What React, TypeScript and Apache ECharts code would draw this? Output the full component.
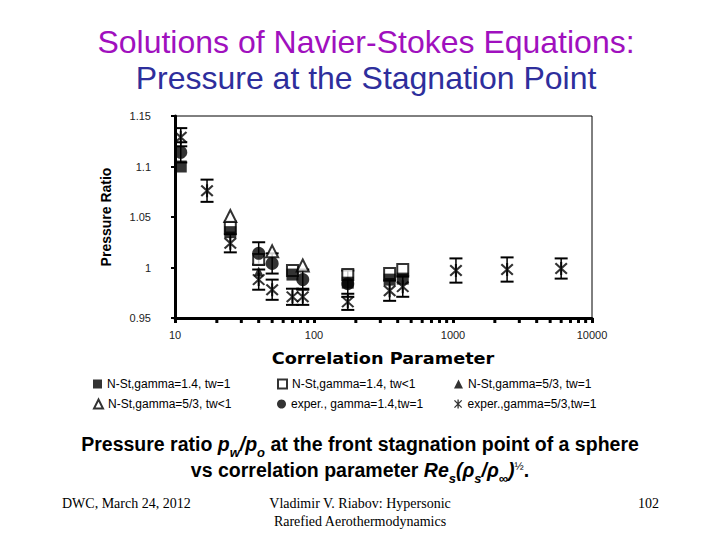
import React, { useEffect, useRef } from 'react';
import * as echarts from 'echarts';

// ---------- data ----------
const seriesNames = [
  'N-St,gamma=1.4, tw=1',
  'N-St,gamma=1.4, tw<1',
  'N-St,gamma=5/3, tw=1',
  'N-St,gamma=5/3, tw<1',
  'exper., gamma=1.4,tw=1',
  'exper.,gamma=5/3,tw=1',
];

const nstG14Tw1X = [11, 25, 70, 175, 350, 435];
const nstG14Tw1Y = [1.1, 1.035, 0.993, 0.985, 0.988, 0.989];

const nstG14TwLtX = [25, 40, 70, 175, 350, 435];
const nstG14TwLtY = [1.04, 1.008, 0.997, 0.993, 0.994, 0.998];

const nstG53Tw1X = [40];
const nstG53Tw1Y = [0.996];

const nstG53TwLtX = [25, 50, 83];
const nstG53TwLtY = [1.051, 1.016, 1.002];

const expG14X = [11, 40, 50, 83, 175];
const expG14Y = [1.114, 1.014, 1.004, 0.988, 0.984];
const expG14Err = [0.01, 0.011, 0.01, 0.01, 0.013];

const expG53X = [11, 17, 25, 40, 50, 70, 83, 175, 350, 435, 1050, 2450, 6000];
const expG53Y = [1.129, 1.076, 1.024, 0.988, 0.978, 0.971, 0.971, 0.966, 0.977, 0.981, 0.997, 0.998, 0.999];
const expG53Err = [0.009, 0.011, 0.009, 0.01, 0.01, 0.008, 0.008, 0.008, 0.01, 0.01, 0.012, 0.012, 0.01];

const minorTickValues = [
  20, 30, 40, 50, 60, 70, 80, 90,
  200, 300, 400, 500, 600, 700, 800, 900,
  2000, 3000, 4000, 5000, 6000, 7000, 8000, 9000,
];

const xMin = 10;
const xMax = 10000;
const yMin = 0.95;
const yMax = 1.15;
const yInterval = 0.05;

// ---------- helpers ----------
const zip = (xs: number[], ys: number[]) => xs.map((x, i) => [x, ys[i]]);
const errData = (xs: number[], ys: number[], es: number[]) =>
  xs.map((x, i) => [x, ys[i] - es[i], ys[i] + es[i]]);

const ASTERISK =
  'path://M8.5 0H11.5V20H8.5Z M0.9 3.0L3.0 0.9L19.1 17.0L17.0 19.1Z M17.0 0.9L19.1 3.0L3.0 19.1L0.9 17.0Z';

const SANS = '"Liberation Sans", Arial, sans-serif';
const SERIF = '"Liberation Serif", "Times New Roman", serif';

function errorBarRender(_params: any, api: any) {
  const x = api.value(0);
  const lo = api.value(1);
  const hi = api.value(2);
  const pHi = api.coord([x, hi]);
  const pLo = api.coord([x, lo]);
  const w = 6.5;
  return {
    type: 'group',
    children: [
      { type: 'line', shape: { x1: pHi[0], y1: pHi[1], x2: pLo[0], y2: pLo[1] }, style: { stroke: '#000', lineWidth: 1.5 } },
      { type: 'line', shape: { x1: pHi[0] - w, y1: pHi[1], x2: pHi[0] + w, y2: pHi[1] }, style: { stroke: '#000', lineWidth: 2 } },
      { type: 'line', shape: { x1: pLo[0] - w, y1: pLo[1], x2: pLo[0] + w, y2: pLo[1] }, style: { stroke: '#000', lineWidth: 2 } },
    ],
  };
}

function minorTickRender(_params: any, api: any) {
  const p = api.coord([api.value(0), yMin]);
  return {
    type: 'rect',
    shape: { x: p[0] - 1.5, y: p[1] + 1, width: 3, height: 4 },
    style: { fill: '#000' },
  };
}

function makeLegend(name: string, left: number, top: number) {
  return {
    data: [name],
    left,
    top,
    orient: 'horizontal',
    itemWidth: 9,
    itemHeight: 9,
    itemGap: 0,
    padding: 0,
    selectedMode: false,
    textStyle: { fontSize: 12, color: '#000', fontFamily: SANS },
  };
}

export default function App() {
  const ref = useRef<HTMLDivElement>(null);

  useEffect(() => {
    if (!ref.current) return;
    const chart = echarts.init(ref.current, undefined, { renderer: 'svg' });

    const openStyle = { color: '#fff', borderColor: '#000', borderWidth: 2 };
    const filledStyle = { color: '#000', borderColor: '#000', borderWidth: 0 };

    const capRich = {
      b: { fontSize: 19.5, fontWeight: 'bold', fontFamily: SANS, color: '#000', lineHeight: 20, verticalAlign: 'top' },
      i: { fontSize: 19.5, fontWeight: 'bold', fontStyle: 'italic', fontFamily: SANS, color: '#000', lineHeight: 20, verticalAlign: 'top' },
      s: { fontSize: 13, fontWeight: 'bold', fontStyle: 'italic', fontFamily: SANS, color: '#000', lineHeight: 12, padding: [12, 0, 0, 0], verticalAlign: 'top' },
      p: { fontSize: 11, fontFamily: SANS, color: '#000', lineHeight: 11, verticalAlign: 'top' },
    };

    const option: any = {
      animation: false,
      backgroundColor: '#fff',
      title: {
        text: '{a|Solutions of Navier-Stokes Equations:}\n{b|Pressure at the Stagnation Point}',
        left: 366,
        top: 24,
        textAlign: 'center',
        padding: 0,
        textStyle: {
          fontWeight: 'normal',
          rich: {
            a: { fontSize: 32, fontWeight: 'normal', fontFamily: SANS, color: '#A010BE', lineHeight: 36, align: 'center' },
            b: { fontSize: 32, fontWeight: 'normal', fontFamily: SANS, color: '#2E2E9C', lineHeight: 36, align: 'center' },
          },
        },
      },
      legend: [
        makeLegend(seriesNames[0], 93, 378),
        makeLegend(seriesNames[1], 277, 378),
        makeLegend(seriesNames[2], 454, 378),
        makeLegend(seriesNames[3], 93, 398),
        makeLegend(seriesNames[4], 277, 398),
        makeLegend(seriesNames[5], 454, 398),
      ],
      grid: {
        left: 175,
        right: 128,
        top: 116,
        bottom: 222,
        show: true,
        borderColor: '#000',
        borderWidth: 1,
        backgroundColor: '#fff',
      },
      xAxis: {
        type: 'log',
        logBase: 10,
        min: xMin,
        max: xMax,
        axisLine: { show: true, lineStyle: { color: '#000', width: 3 } },
        axisTick: { show: true, length: 5, lineStyle: { color: '#000', width: 3 } },
        axisLabel: { fontSize: 11, fontFamily: SANS, color: '#222', margin: 11, formatter: (v: number) => String(v) },
        splitLine: { show: false },
        minorTick: { show: false },
      },
      yAxis: {
        type: 'value',
        min: yMin,
        max: yMax,
        interval: yInterval,
        name: 'Pressure Ratio',
        nameLocation: 'middle',
        nameRotate: 90,
        nameGap: 62,
        nameTextStyle: { fontSize: 14, fontWeight: 'bold', fontFamily: SANS, color: '#000' },
        axisLine: { show: true, lineStyle: { color: '#000', width: 3 } },
        axisTick: { show: true, length: 4, lineStyle: { color: '#000', width: 2 } },
        axisLabel: { fontSize: 11, fontFamily: SANS, color: '#222', margin: 24 },
        splitLine: { show: false },
      },
      series: [
        {
          name: 'minorTicks',
          type: 'custom',
          silent: true,
          clip: false,
          renderItem: minorTickRender,
          data: minorTickValues.map((v) => [v]),
          encode: { x: 0 },
          z: 1,
        },
        {
          name: 'errG53',
          type: 'custom',
          silent: true,
          renderItem: errorBarRender,
          data: errData(expG53X, expG53Y, expG53Err),
          encode: { x: 0, y: [1, 2] },
          z: 2,
        },
        {
          name: 'errG14',
          type: 'custom',
          silent: true,
          renderItem: errorBarRender,
          data: errData(expG14X, expG14Y, expG14Err),
          encode: { x: 0, y: [1, 2] },
          z: 2,
        },
        {
          name: seriesNames[1],
          type: 'scatter',
          symbol: 'rect',
          symbolSize: 11,
          itemStyle: openStyle,
          data: zip(nstG14TwLtX, nstG14TwLtY),
          z: 3,
        },
        {
          name: seriesNames[3],
          type: 'scatter',
          symbol: 'triangle',
          symbolSize: 12,
          itemStyle: openStyle,
          data: zip(nstG53TwLtX, nstG53TwLtY),
          z: 3,
        },
        {
          name: seriesNames[0],
          type: 'scatter',
          symbol: 'rect',
          symbolSize: 12,
          itemStyle: filledStyle,
          data: zip(nstG14Tw1X, nstG14Tw1Y),
          z: 4,
        },
        {
          name: seriesNames[2],
          type: 'scatter',
          symbol: 'triangle',
          symbolSize: 10,
          itemStyle: filledStyle,
          data: zip(nstG53Tw1X, nstG53Tw1Y),
          z: 4,
        },
        {
          name: seriesNames[4],
          type: 'scatter',
          symbol: 'circle',
          symbolSize: 13,
          itemStyle: filledStyle,
          data: zip(expG14X, expG14Y),
          z: 5,
        },
        {
          name: seriesNames[5],
          type: 'scatter',
          symbol: ASTERISK,
          symbolSize: 13,
          itemStyle: filledStyle,
          data: zip(expG53X, expG53Y),
          z: 5,
        },
      ],
      graphic: [
        {
          type: 'text',
          x: 383,
          y: 359,
          scaleX: 1.18,
          style: {
            text: 'Correlation Parameter',
            font: 'bold 15px "DejaVu Sans", sans-serif',
            fill: '#000',
            align: 'center',
            verticalAlign: 'middle',
          },
        },
        {
          type: 'text',
          x: 360,
          y: 444,
          style: {
            text: '{b|Pressure ratio }{i|p}{s|w}{i|/p}{s|o}{b| at the front stagnation point of a sphere}',
            align: 'center',
            verticalAlign: 'middle',
            rich: capRich,
          },
        },
        {
          type: 'text',
          x: 360,
          y: 470,
          style: {
            text: '{b|vs correlation parameter }{i|Re}{s|s}{i|(ρ}{s|s}{i|/ρ}{s|∞}{i|)}{p|½}{b|.}',
            align: 'center',
            verticalAlign: 'middle',
            rich: capRich,
          },
        },
        {
          type: 'text',
          x: 62,
          y: 503,
          style: { text: 'DWC, March 24, 2012', font: '14px ' + SERIF, fill: '#000', align: 'left', verticalAlign: 'middle' },
        },
        {
          type: 'text',
          x: 360,
          y: 503,
          style: { text: 'Vladimir V. Riabov: Hypersonic', font: '14px ' + SERIF, fill: '#000', align: 'center', verticalAlign: 'middle' },
        },
        {
          type: 'text',
          x: 360,
          y: 521,
          style: { text: 'Rarefied Aerothermodynamics', font: '14px ' + SERIF, fill: '#000', align: 'center', verticalAlign: 'middle' },
        },
        {
          type: 'text',
          x: 659,
          y: 503,
          style: { text: '102', font: '14px ' + SERIF, fill: '#000', align: 'right', verticalAlign: 'middle' },
        },
      ],
    };

    chart.setOption(option);
    return () => chart.dispose();
  }, []);

  return (
    <div
      ref={ref}
      style={{ position: 'fixed', left: 0, top: 0, width: 720, height: 540, background: '#fff' }}
    />
  );
}
